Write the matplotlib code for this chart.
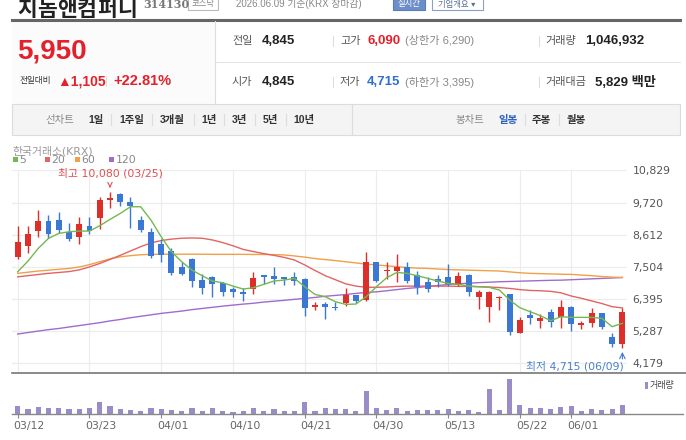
import numpy as np
import matplotlib
matplotlib.use("Agg")
import matplotlib.pyplot as plt
import matplotlib.transforms as mtransforms
from matplotlib.patches import Rectangle
from matplotlib.lines import Line2D

W, H = 686, 440
KR = ['Liberation Sans', 'Noto Sans CJK KR']
KR2 = ['DejaVu Sans', 'Noto Sans CJK KR']

# --- daily candles (03/12 .. 06/09) ---
opens = [7853, 8231, 8737, 9081, 9104, 8714, 8541, 8909, 9196, 9804,
         9999, 9747, 9104, 8691, 8277, 8059, 7508, 7772, 7038, 7164,
         6934, 6728, 6624, 6728, 7221, 7175, 7164, 7152, 7083, 6119,
         6222, 6131, 6245, 6532, 6360, 7657, 7347, 7359, 7508, 7221,
         6969, 7072, 7141, 6877, 7221, 6475, 6131, 6418, 6555, 5235,
         5844, 5648, 5935, 5763, 6108, 5499, 5580, 5901, 5097, 4845]
highs = [8909, 8909, 9460, 9288, 9379, 9000, 9230, 9230, 9919, 10080,
         10034, 9919, 9265, 8828, 8461, 8140, 7657, 7818, 7256, 7198,
         6992, 6819, 6785, 7313, 7221, 7508, 7164, 7336, 7106, 6303,
         6303, 6303, 6762, 6532, 8002, 7680, 7680, 7944, 7680, 7370,
         7164, 7221, 7588, 7313, 7244, 6705, 6670, 6509, 6555, 5763,
         6004, 5867, 6039, 6349, 6153, 5648, 6096, 5912, 5235, 6090]
lows = [7761, 7990, 8541, 8484, 8656, 8392, 8277, 8622, 8805, 9517,
        9597, 8851, 8691, 7818, 7657, 7221, 7221, 6796, 6567, 6452,
        6509, 6475, 6326, 6555, 6923, 6900, 6877, 6877, 5821, 6016,
        5706, 6016, 6165, 6245, 6337, 6992, 7083, 6992, 6934, 6555,
        6647, 6819, 6854, 6854, 6509, 6050, 5614, 6016, 5155, 5212,
        5522, 5384, 5442, 5384, 5304, 5361, 5442, 5361, 4753, 4715]
closes = [8346, 8633, 9081, 8633, 8760, 8461, 8966, 8737, 9804, 9884,
          9724, 9597, 8771, 7887, 7910, 7279, 7256, 7026, 6785, 6923,
          6647, 6636, 6555, 7106, 7152, 7095, 7095, 7015, 6096, 6177,
          6108, 6085, 6532, 6337, 7680, 7026, 7393, 7508, 7026, 6819,
          6728, 6992, 6911, 7198, 6624, 6647, 6624, 6464, 5247, 5671,
          5729, 5752, 5614, 6131, 5534, 5580, 5901, 5419, 4845, 5950]
volumes = [930000, 580000, 815000, 700000, 700000, 580000, 580000, 700000, 1430000, 930000,
           580000, 465000, 350000, 700000, 580000, 465000, 350000, 700000, 350000, 700000,
           350000, 230000, 350000, 700000, 350000, 580000, 350000, 350000, 1360000, 350000,
           700000, 580000, 580000, 350000, 2710000, 700000, 465000, 700000, 350000, 465000,
           465000, 465000, 580000, 350000, 465000, 230000, 2950000, 465000, 4070000, 1050000,
           700000, 700000, 580000, 815000, 930000, 350000, 580000, 465000, 580000, 1046932]

ma5 = [7336, 7703, 8140, 8484, 8656, 8714, 8737, 8737, 8920, 9138,
       9345, 9575, 9575, 9115, 8541, 8025, 7680, 7393, 7198, 7015,
       6957, 6842, 6739, 6785, 6900, 7015, 7049, 7106, 6819, 6555,
       6475, 6303, 6211, 6222, 6475, 6819, 7129, 7313, 7279, 7198,
       7106, 7015, 6934, 6900, 6842, 6819, 6796, 6705, 6360, 6096,
       5958, 5821, 5648, 5786, 5763, 5763, 5763, 5729, 5442, 5557]
ma20 = [7160, 7200, 7240, 7280, 7310, 7340, 7400, 7500, 7620, 7760,
        7900, 8050, 8200, 8330, 8410, 8460, 8490, 8500, 8490, 8430,
        8340, 8230, 8105, 8030, 7960, 7900, 7830, 7740, 7570, 7380,
        7200, 7060, 6920, 6840, 6800, 6800, 6810, 6830, 6840, 6840,
        6840, 6840, 6840, 6830, 6830, 6820, 6810, 6790, 6760, 6720,
        6690, 6680, 6660, 6610, 6500, 6420, 6330, 6240, 6130, 6090]
ma60 = [7280, 7320, 7360, 7390, 7420, 7450, 7500, 7580, 7680, 7780,
        7850, 7890, 7920, 7935, 7940, 7940, 7940, 7940, 7940, 7935,
        7935, 7935, 7935, 7930, 7930, 7925, 7915, 7880, 7840, 7790,
        7755, 7720, 7680, 7640, 7600, 7570, 7540, 7510, 7480, 7460,
        7450, 7430, 7410, 7400, 7390, 7380, 7370, 7360, 7330, 7300,
        7280, 7270, 7260, 7250, 7245, 7220, 7200, 7170, 7150, 7135]
ma120 = [5190, 5240, 5290, 5340, 5380, 5430, 5480, 5530, 5580, 5640,
         5690, 5750, 5800, 5850, 5900, 5940, 5980, 6030, 6070, 6110,
         6150, 6185, 6220, 6250, 6290, 6320, 6350, 6385, 6416, 6450,
         6490, 6520, 6550, 6590, 6620, 6643, 6680, 6720, 6760, 6790,
         6830, 6860, 6897, 6920, 6940, 6960, 6975, 6990, 7000, 7010,
         7020, 7030, 7040, 7045, 7060, 7075, 7090, 7105, 7120, 7138]

date_ticks = [0, 7, 14, 21, 28, 35, 42, 49, 54]
date_labels = ['03/12', '03/23', '04/01', '04/10', '04/21', '04/30', '05/13', '05/22', '06/01']
price_ticks = [4179, 5287, 6395, 7504, 8612, 9720, 10829]

UP, DOWN = '#dc2f2a', '#3b78d4'
C5, C20, C60, C120 = '#74b84f', '#e26464', '#f0a048', '#a06ccc'
VOLC = '#9a8cc6'


def fx(x):
    return x / W


def fy(y):
    return 1 - y / H


fig = plt.figure(figsize=(W / 100, H / 100), dpi=100)
fig.patch.set_facecolor('white')


def ftext(x, y, s, **kw):
    kw.setdefault('va', 'center')
    kw.setdefault('family', KR)
    fig.text(fx(x), fy(y), s, **kw)


def frect(x0, y0, x1, y1, **kw):
    fig.add_artist(Rectangle((fx(x0), fy(y1)), fx(x1) - fx(x0), fy(y0) - fy(y1),
                             transform=fig.transFigure, **kw))


def fline(x0, y0, x1, y1, **kw):
    fig.add_artist(Line2D([fx(x0), fx(x1)], [fy(y0), fy(y1)], transform=fig.transFigure, **kw))


# --- header (top is cut off in the source) ---
for i, ch in enumerate('지놈앤컴퍼니'):
    ftext(17 + i * 20, 16.5, ch, fontsize=15.5, color='#222', va='baseline',
          family=['Noto Sans CJK KR'], weight='bold')
ftext(143, 8.5, '314130', fontsize=8, color='#777', weight='bold', va='baseline',
      family=['DejaVu Serif'])
frect(188, -3, 218, 10, facecolor='white', edgecolor='#bbb', lw=0.8)
ftext(203, 4, '코스닥', fontsize=6, color='#888', ha='center')
ftext(236, 4, '2026.06.09 기준(KRX 장마감)', fontsize=7, color='#888')
frect(393, -3, 425, 10, facecolor='#6d8fc9', edgecolor='#5a7db8', lw=0.8)
ftext(409, 4, '실시간', fontsize=6, color='white', ha='center')
frect(432, -3, 483, 10, facecolor='white', edgecolor='#8aa0c8', lw=0.8)
ftext(457, 4, '기업개요 ▾', fontsize=6, color='#5a6e9a', ha='center', family=KR2)

fline(12, 20, 680, 20, color='#666', lw=2.2)
frect(12, 21.5, 215, 104, facecolor='#fbfbfb', edgecolor='none')
fline(215, 21.5, 215, 104, color='#ddd', lw=0.8)
fline(215, 62.5, 680, 62.5, color='#e6e6e6', lw=0.8)

ftext(17, 51, '5,950', fontsize=20, weight='bold', color='#e3202b')
ftext(19, 81, '전일대비', fontsize=6.2, color='#333')
ftext(57, 81, '▲1,105', fontsize=10, weight='bold', color='#e3202b',
      family=['Liberation Sans', 'DejaVu Sans'])
fline(106, 76, 106, 86, color='#ddd', lw=0.8)
ftext(113, 81, '+22.81%', fontsize=10.5, weight='bold', color='#e3202b')

for yy, items in [(41, [('전일', '4,845', '#222', ''), ('고가', '6,090', '#e3202b', '(상한가 6,290)'),
                        ('거래량', '1,046,932', '#222', '')]),
                  (82, [('시가', '4,845', '#222', ''), ('저가', '4,715', '#2f6fce', '(하한가 3,395)'),
                        ('거래대금', '5,829 백만', '#222', '')])]:
    xs = [(232, 262), (340, 367), (545, 585 if yy == 41 else 595)]
    for (lab, val, col, extra), (xl, xv) in zip(items, xs):
        ftext(xl, yy, lab, fontsize=8, color='#555')
        ftext(xv, yy, val, fontsize=9.5, weight='bold', color=col)
        if extra:
            ftext(405, yy, extra, fontsize=8, color='#888')
    fline(333, yy - 5, 333, yy + 5, color='#ddd', lw=0.8)
    fline(539, yy - 5, 539, yy + 5, color='#ddd', lw=0.8)

# --- tabs bar ---
frect(12, 104, 680, 135, facecolor='#f4f4f4', edgecolor='#dcdcdc', lw=0.8)
fline(351.5, 104, 351.5, 135, color='#dcdcdc', lw=0.8)
ftext(45, 119.5, '선차트', fontsize=7.5, color='#888')
for lab, x0 in [('1일', 88), ('1주일', 119), ('3개월', 160), ('1년', 201), ('3년', 232), ('5년', 263), ('10년', 293)]:
    ftext(x0, 119.5, lab, fontsize=7.5, weight='bold', color='#333')
for x0 in [111, 152, 194, 224, 255, 286]:
    fline(x0, 114, x0, 125, color='#ddd', lw=0.8)
ftext(455, 119.5, '봉차트', fontsize=7.5, color='#888')
ftext(498, 119.5, '일봉', fontsize=7.5, weight='bold', color='#2d62c0')
ftext(532, 119.5, '주봉', fontsize=7.5, weight='bold', color='#333')
ftext(567, 119.5, '월봉', fontsize=7.5, weight='bold', color='#333')
fline(525, 114, 525, 125, color='#ddd', lw=0.8)
fline(559, 114, 559, 125, color='#ddd', lw=0.8)

# --- chart captions ---
ftext(12, 151, '한국거래소(KRX)', fontsize=7.8, color='#999', family=KR2)
for col, lab, x0 in [(C5, '5', 13), (C20, '20', 45), (C60, '60', 75), (C120, '120', 109)]:
    frect(x0, 157.5, x0 + 4.5, 162, facecolor=col, edgecolor='none')
    ftext(x0 + 6.5, 160, lab, fontsize=7.8, color='#888', family=KR2)

# --- price panel ---
x = np.arange(len(closes))
o, h, l, c = map(np.array, (opens, highs, lows, closes))
ax = fig.add_axes([fx(12), fy(372.7), fx(627) - fx(12), fy(170.2) - fy(372.7)])
ax.set_xlim(-0.56, 59.45)
ax.set_ylim(3856, 10835)
for s in ax.spines.values():
    s.set_visible(False)
ax.set_yticks(price_ticks)
ax.set_yticklabels([f'{v:,}' for v in price_ticks])
ax.yaxis.tick_right()
ax.tick_params(axis='y', length=0, pad=4, labelsize=7.8, labelcolor='#555')
ax.set_xticks(date_ticks)
ax.tick_params(axis='x', length=0, labelbottom=False)
ax.grid(True, color='#ececec', lw=0.8)
ax.set_axisbelow(True)

ax.plot(x, ma120, color=C120, lw=1, zorder=2)
ax.plot(x, ma60, color=C60, lw=1, zorder=2)
ax.plot(x, ma20, color=C20, lw=1, zorder=2)
ax.plot(x, ma5, color=C5, lw=1, zorder=4)

up = c >= o
cols = np.where(up, UP, DOWN)
ax.vlines(x, l, h, colors=cols, lw=1, zorder=3)
bottom = np.minimum(o, c)
height = np.maximum(np.abs(c - o), 35)
ax.bar(x, height, bottom=bottom, width=0.58, color=cols, zorder=3)

ax.annotate('최고 10,080 (03/25)', xy=(9, 10080), xytext=(9, 10740), ha='center', va='center',
            fontsize=7.8, color='#e05050', family=KR2,
            arrowprops=dict(arrowstyle='->', color='#e05050', lw=0.8, shrinkA=4, shrinkB=3))
ax.annotate('', xy=(59, 4715), xytext=(59, 4330),
            arrowprops=dict(arrowstyle='->', color='#3b78d4', lw=0.8, shrinkA=0, shrinkB=3))
ax.text(59.1, 4086, '최저 4,715 (06/09)', ha='right', va='center', fontsize=7.8,
        color='#4a80cc', family=KR2)

fline(12, 372.7, 686, 372.7, color='#777', lw=1.2)

# --- volume panel ---
vx = fig.add_axes([fx(12), fy(414), fx(627) - fx(12), fy(375) - fy(414)])
vx.set_xlim(-0.56, 59.45)
vx.set_ylim(0, 4530000)
vx.bar(x, volumes, width=0.5, color=VOLC)
for s in vx.spines.values():
    s.set_visible(False)
vx.set_yticks([])
vx.set_xticks(date_ticks)
vx.set_xticklabels(date_labels)
vx.tick_params(axis='x', length=3, color='#888', pad=2, labelsize=7.8, labelcolor='#666')
shift = mtransforms.ScaledTranslation(-4 / 100, 0, fig.dpi_scale_trans)
for lab in vx.get_xticklabels():
    lab.set_ha('left')
    lab.set_transform(lab.get_transform() + shift)
fline(12, 414, 683, 414, color='#888', lw=1)
frect(645, 382, 648, 389, facecolor=VOLC, edgecolor='none')
ftext(650, 385.5, '거래량', fontsize=6.5, color='#444')

fig.savefig('out.png', dpi=100)
